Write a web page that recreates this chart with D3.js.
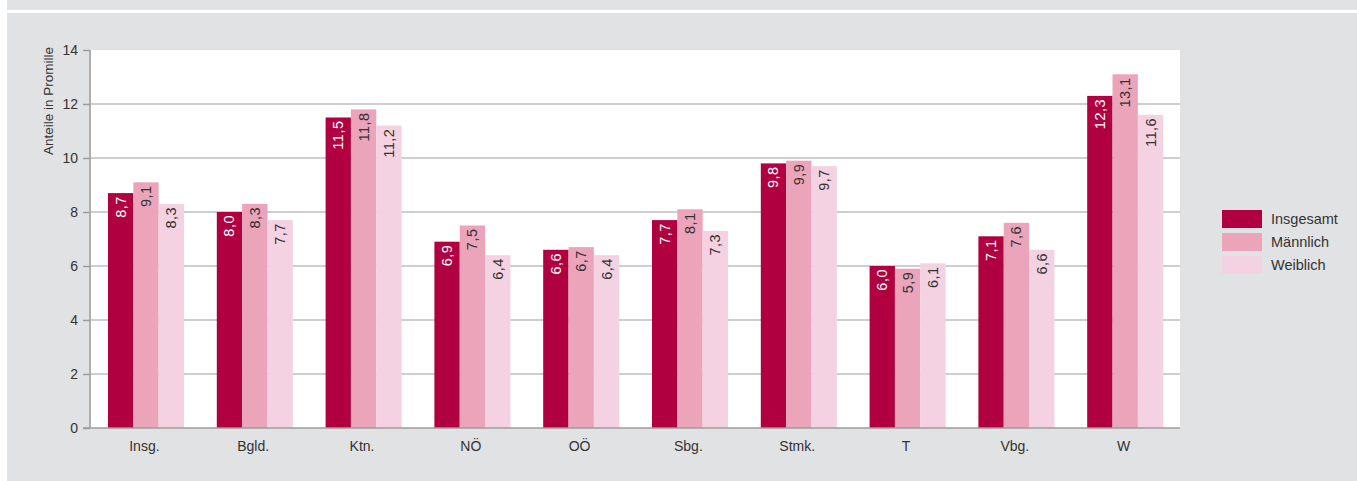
<!DOCTYPE html>
<html>
<head>
<meta charset="utf-8">
<script src="https://cdn.jsdelivr.net/npm/d3@7"></script>
<style>
  html, body { margin: 0; padding: 0; background: #ffffff; }
  svg { display: block; font-family: "Liberation Sans", Arial, sans-serif; }
</style>
</head>
<body>
<svg id="chart" width="1357" height="481"></svg>
<script>
const categories = ["Insg.", "Bgld.", "Ktn.", "NÖ", "OÖ", "Sbg.", "Stmk.", "T", "Vbg.", "W"];
const seriesNames = ["Insgesamt", "Männlich", "Weiblich"];
const insgesamt = [8.7, 8.0, 11.5, 6.9, 6.6, 7.7, 9.8, 6.0, 7.1, 12.3];
const maennlich = [9.1, 8.3, 11.8, 7.5, 6.7, 8.1, 9.9, 5.9, 7.6, 13.1];
const weiblich  = [8.3, 7.7, 11.2, 6.4, 6.4, 7.3, 9.7, 6.1, 6.6, 11.6];
const yTicks = [0, 2, 4, 6, 8, 10, 12, 14];
const yTitle = "Anteile in Promille";

const seriesValues = [insgesamt, maennlich, weiblich];
const colors = ["#b1003f", "#eca4bb", "#f5d2e1"];
const labelColors = ["#ffffff", "#333333", "#333333"];

const svg = d3.select("#chart");
const W = 1357, H = 481;

// backgrounds
svg.append("rect").attr("x", 7).attr("y", 0).attr("width", W - 7).attr("height", 10).attr("fill", "#e1e2e4");
svg.append("rect").attr("x", 7).attr("y", 13).attr("width", W - 7).attr("height", H - 13).attr("fill", "#e1e2e4");

const plot = { left: 91, right: 1180, top: 50, bottom: 428 };
svg.append("rect").attr("x", plot.left).attr("y", plot.top)
  .attr("width", plot.right - plot.left).attr("height", plot.bottom - plot.top).attr("fill", "#ffffff");

const x0 = d3.scaleBand().domain(categories).range([90, 1178]).padding(0);
const groupOffset = 18, groupWidth = 76;
const x1 = d3.scaleBand().domain(seriesNames).range([groupOffset, groupOffset + groupWidth]).padding(0);
const y = d3.scaleLinear().domain([0, 14]).range([plot.bottom, plot.top]);

// gridlines
svg.append("g").selectAll("line").data(yTicks.filter(t => t > 0 && t < 14)).join("line")
  .attr("x1", plot.left).attr("x2", plot.right)
  .attr("y1", d => y(d)).attr("y2", d => y(d))
  .attr("stroke", "#9d9d9d").attr("stroke-width", 1);

// bars
const groups = svg.append("g").selectAll("g").data(categories).join("g")
  .attr("transform", d => `translate(${x0(d)},0)`);

groups.each(function(cat, ci) {
  const g = d3.select(this);
  seriesNames.forEach((s, si) => {
    const v = seriesValues[si][ci];
    g.append("rect")
      .attr("x", x1(s)).attr("y", y(v))
      .attr("width", x1.bandwidth()).attr("height", y(0) - y(v))
      .attr("fill", colors[si]);
    const cx = x1(s) + x1.bandwidth() / 2 + 5;
    const ty = y(v) + 3;
    g.append("text")
      .attr("transform", `translate(${cx},${ty}) rotate(-90)`)
      .attr("text-anchor", "end")
      .attr("font-size", 14.5)
      .attr("letter-spacing", 0.5)
      .attr("fill", labelColors[si])
      .text(d3.format(".1f")(v).replace(".", ","));
  });
});

// y axis
const yAxis = d3.axisLeft(y).tickValues(yTicks).tickSize(7).tickPadding(5).tickFormat(d3.format("d"));
const ya = svg.append("g").attr("transform", `translate(90,0)`).call(yAxis);
ya.select(".domain").attr("stroke", "#9d9d9d").attr("stroke-width", 1.5).attr("d", `M0,${plot.top}V${plot.bottom}`);
ya.selectAll(".tick line").attr("stroke", "#9d9d9d").attr("stroke-width", 1.5);
ya.selectAll(".tick text").attr("font-size", 14).attr("fill", "#333333").attr("font-family", "Liberation Sans, Arial, sans-serif");

// x axis
const xAxis = d3.axisBottom(x0).tickSize(0).tickPadding(13);
const xa = svg.append("g").attr("transform", `translate(0,${plot.bottom})`).call(xAxis);
xa.select(".domain").attr("stroke", "#9d9d9d").attr("stroke-width", 1.5).attr("d", `M83,0H${plot.right}`);
xa.selectAll(".tick text").attr("font-size", 14).attr("fill", "#333333").attr("font-family", "Liberation Sans, Arial, sans-serif");

// y title
svg.append("text")
  .attr("transform", `translate(53,47) rotate(-90)`)
  .attr("text-anchor", "end")
  .attr("font-size", 13.5)
  .attr("fill", "#333333")
  .text(yTitle);

// legend
const legend = svg.append("g").attr("transform", "translate(1222,210)");
seriesNames.forEach((s, i) => {
  legend.append("rect").attr("x", 0).attr("y", i * 23).attr("width", 40).attr("height", 18).attr("fill", colors[i]);
  legend.append("text").attr("x", 49).attr("y", i * 23 + 14).attr("font-size", 14.5).attr("fill", "#333333").text(s);
});
</script>
</body>
</html>
